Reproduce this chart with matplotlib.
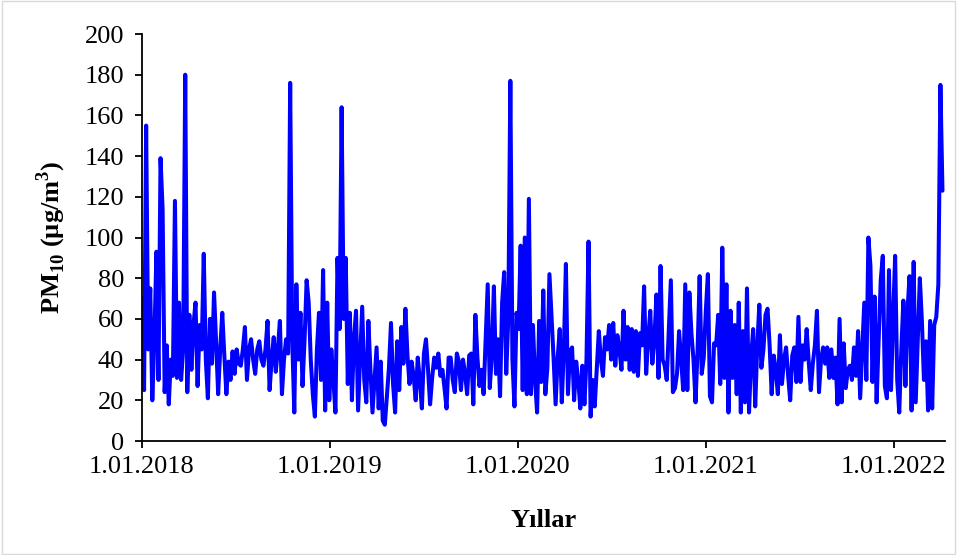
import pandas as pd
import numpy as np
import matplotlib
matplotlib.use('Agg')
import matplotlib.pyplot as plt
from matplotlib.patches import Rectangle

plt.rcParams['font.family'] = ['Liberation Serif', 'DejaVu Serif']
plt.rcParams['mathtext.fontset'] = 'custom'
plt.rcParams['mathtext.rm'] = 'Liberation Serif'
plt.rcParams['mathtext.bf'] = 'Liberation Serif:bold'

# PM10 (ug/m3), one value every 4 days starting 1.01.2018
pm10_2018 = [70, 25, 155, 45, 75, 20, 50, 93, 30, 139, 114, 24, 47, 18, 40, 32, 118, 31, 68, 30,
             45, 180, 24, 62, 35, 57, 68, 27, 57, 45, 92, 40, 21, 60, 38, 73, 49, 23, 45, 63,
             42, 23, 39, 30, 44, 33, 45, 38, 37, 45, 56, 30, 45, 50, 40, 33, 45, 49, 40, 37,
             45, 59, 25, 40, 51, 34, 45, 59, 23, 40, 50, 43, 176, 50, 14, 77, 40, 63, 27, 50,
             79, 68, 40, 23, 12, 45, 63, 30, 84, 15, 68, 20]
pm10_2019 = [45, 30, 14, 90, 55, 164, 60, 90, 28, 63, 20, 50, 64, 15, 40, 66, 30, 19, 59, 35,
             14, 30, 46, 16, 39, 10, 8, 22, 36, 58, 28, 14, 49, 25, 56, 38, 65, 42, 28, 39,
             32, 20, 41, 30, 16, 43, 50, 35, 18, 31, 41, 36, 43, 32, 35, 26, 16, 41, 41, 30,
             24, 43, 39, 25, 40, 33, 23, 42, 43, 18, 62, 41, 27, 35, 23, 50, 77, 26, 42, 76,
             33, 50, 22, 68, 83, 33, 60, 177, 40, 17, 63]
pm10_2020 = [55, 96, 25, 100, 23, 119, 23, 57, 30, 14, 59, 29, 74, 23, 36, 82, 62, 41, 18, 41,
             55, 19, 45, 87, 23, 44, 46, 20, 39, 30, 16, 37, 18, 40, 98, 12, 30, 17, 36, 54,
             40, 32, 51, 45, 57, 40, 58, 37, 52, 45, 35, 64, 40, 56, 35, 55, 34, 54, 32, 53,
             47, 76, 33, 50, 64, 38, 50, 72, 31, 86, 40, 37, 30, 55, 79, 24, 26, 33, 54, 40,
             25, 77, 25, 73, 53, 40, 19, 45, 81, 33, 41, 64]
pm10_2021 = [82, 22, 19, 48, 47, 62, 28, 95, 31, 77, 14, 64, 31, 57, 23, 68, 14, 54, 19, 75,
             14, 41, 55, 17, 47, 67, 36, 45, 62, 65, 47, 23, 42, 35, 23, 52, 28, 40, 46, 32,
             20, 42, 46, 29, 61, 29, 47, 40, 55, 39, 25, 38, 47, 64, 24, 40, 46, 38, 46, 31,
             45, 31, 41, 18, 60, 19, 48, 26, 35, 37, 30, 46, 32, 54, 21, 45, 68, 30, 100, 86,
             29, 71, 19, 50, 79, 91, 27, 21, 84, 25, 60]
pm10_2022 = [91, 30, 14, 45, 69, 27, 64, 81, 15, 88, 19, 50, 80, 59, 30, 49, 15, 59, 16, 57,
             61, 77, 175, 123]

pm10 = pm10_2018 + pm10_2019 + pm10_2020 + pm10_2021 + pm10_2022
dates = pd.date_range('2018-01-01', periods=len(pm10), freq='4D')

tick_dates = pd.to_datetime(['2018-01-01', '2019-01-01', '2020-01-01', '2021-01-01', '2022-01-01'])
tick_labels = ['1.01.2018', '1.01.2019', '1.01.2020', '1.01.2021', '1.01.2022']

fig = plt.figure(figsize=(9.57, 5.55), dpi=100)
ax = fig.add_axes([0.1484, 0.2054, 0.9875 - 0.1484, 0.9387 - 0.2054])

ax.plot(dates, pm10, color='#0000FF', linewidth=2.9, solid_joinstyle='round', solid_capstyle='round')

ax.set_xlim(pd.Timestamp('2018-01-01'), dates[-1] + pd.Timedelta(days=5))
ax.set_ylim(0, 200)
ax.set_yticks(np.arange(0, 201, 20))
ax.set_xticks(tick_dates)
ax.set_xticklabels(tick_labels)

for s in ['top', 'right']:
    ax.spines[s].set_visible(False)
for s in ['left', 'bottom']:
    ax.spines[s].set_linewidth(1.3)
    ax.spines[s].set_color('black')

ax.tick_params(axis='both', direction='out', length=5, width=1.3, labelsize=19)
ax.tick_params(axis='y', pad=8)
ax.tick_params(axis='x', pad=6)

ax.set_ylabel(r'PM$_{\mathbf{10}}$ (µg/m$^{\mathbf{3}}$)', fontsize=19, fontweight='bold', labelpad=12)
ax.set_xlabel('Yıllar', fontsize=19, fontweight='bold', labelpad=22)

fig.patches.append(Rectangle((0.002, 0.002), 0.996, 0.996, transform=fig.transFigure,
                             fill=False, edgecolor='#d9d9d9', linewidth=1))

plt.savefig('out.png', dpi=100)
